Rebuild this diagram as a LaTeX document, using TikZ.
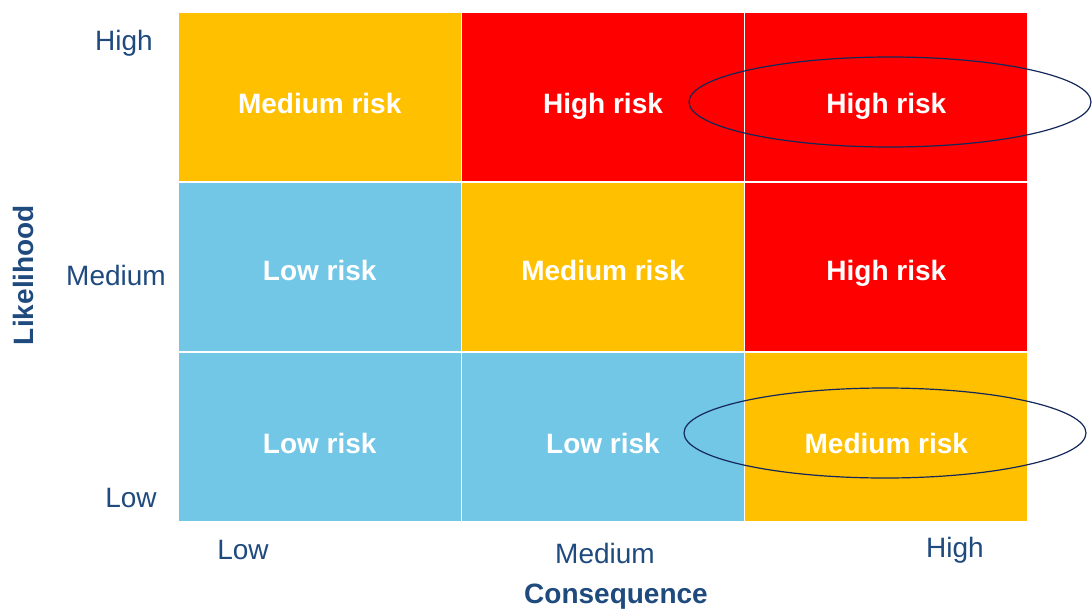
\documentclass[tikz,border=0pt]{standalone}
\usepackage{fontspec}
\setmainfont{Liberation Sans}
\usetikzlibrary{shapes, positioning}

\definecolor{riskorange}{HTML}{FFC000}
\definecolor{riskred}{HTML}{FF0000}
\definecolor{riskblue}{HTML}{72C6E6}
\definecolor{axisblue}{HTML}{1F4A7E}
\definecolor{ringblue}{HTML}{14285A}

\tikzset{
    cell/.style={rectangle, draw=white, line width=1.5pt, inner sep=0pt,
        minimum width=283.3pt, minimum height=170pt},
    risk/.style={anchor=base, text=white, font=\fontsize{28}{34}\selectfont\bfseries},
    axis/.style={anchor=base, text=axisblue, font=\fontsize{28}{34}\selectfont},
    axistitle/.style={text=axisblue, font=\fontsize{28}{34}\selectfont\bfseries},
    ring/.style={ellipse, draw=ringblue, line width=1.2pt, inner sep=0pt,
        minimum width=402pt, minimum height=90pt}
}

\begin{document}
\begin{tikzpicture}[x=1pt, y=-1pt]
            \useasboundingbox (0, 0) rectangle (1092, 608);

            % matrix cells
            \node[cell, fill=riskorange] (c11) at (319.7, 97) {};
            \node[cell, fill=riskred] (c12) at (603, 97) {};
            \node[cell, fill=riskred] (c13) at (886.3, 97) {};
            \node[cell, fill=riskblue] (c21) at (319.7, 267) {};
            \node[cell, fill=riskorange] (c22) at (603, 267) {};
            \node[cell, fill=riskred] (c23) at (886.3, 267) {};
            \node[cell, fill=riskblue] (c31) at (319.7, 437) {};
            \node[cell, fill=riskblue] (c32) at (603, 437) {};
            \node[cell, fill=riskorange] (c33) at (886.3, 437) {};

            \node[risk] (t11) at (319.7, 113) {Medium risk};
            \node[risk] (t12) at (603, 113) {High risk};
            \node[risk] (t13) at (886.3, 113) {High risk};
            \node[risk] (t21) at (319.7, 280) {Low risk};
            \node[risk] (t22) at (603, 280) {Medium risk};
            \node[risk] (t23) at (886.3, 280) {High risk};
            \node[risk] (t31) at (319.7, 453) {Low risk};
            \node[risk] (t32) at (603, 453) {Low risk};
            \node[risk] (t33) at (886.3, 453) {Medium risk};

            % highlighted cells
            \node[ring] (ring1) at (890, 102) {};
            \node[ring] (ring2) at (885, 433) {};

            % axes
            \node[axis] (lhigh) at (124, 50) {High};
            \node[axis] (lmed) at (116, 285) {Medium};
            \node[axis] (llow) at (131, 507) {Low};
            \node[axis] (clow) at (243, 559) {Low};
            \node[axis] (cmed) at (605, 563) {Medium};
            \node[axis] (chigh) at (955, 557) {High};

            \node[axistitle, rotate=90] (likelihood) at (23, 275) {Likelihood};
            \node[axistitle, anchor=base] (consequence) at (616, 603) {Consequence};
        \end{tikzpicture}
\end{document}
